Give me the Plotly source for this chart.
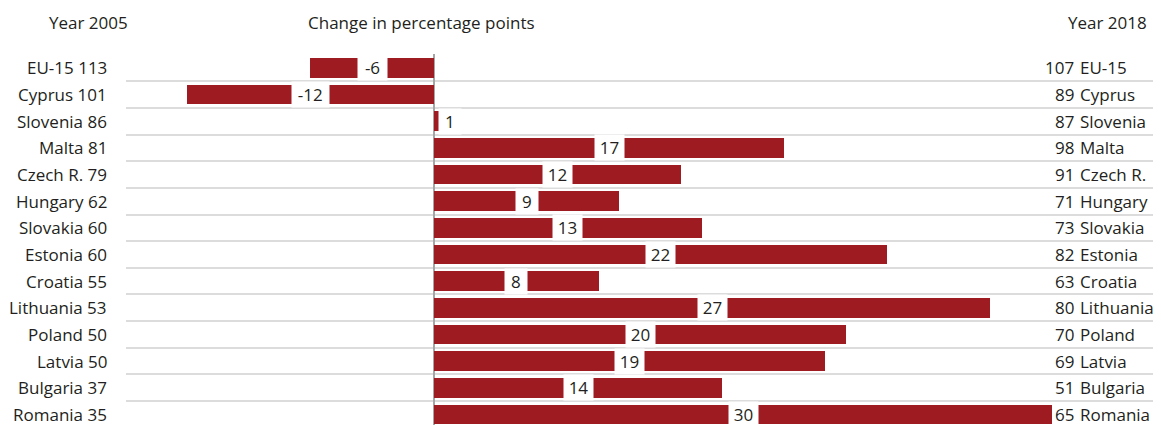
import plotly.graph_objects as go

countries = ["EU-15", "Cyprus", "Slovenia", "Malta", "Czech R.", "Hungary", "Slovakia",
             "Estonia", "Croatia", "Lithuania", "Poland", "Latvia", "Bulgaria", "Romania"]
year2005 = [113, 101, 86, 81, 79, 62, 60, 60, 55, 53, 50, 50, 37, 35]
year2018 = [107, 89, 87, 98, 91, 71, 73, 82, 63, 80, 70, 69, 51, 65]
change = [-6, -12, 1, 17, 12, 9, 13, 22, 8, 27, 20, 19, 14, 30]

FONT = "Open Sans"
FS = 17
TXT = "#231f20"
BAR = "#9e1b22"
OFF = 8  # page body margin
W, H = 1161 - OFF, 425 - OFF
ML, MR, MT, MB = 126 - OFF, 7, 54 - OFF, 0
pw = W - ML - MR
ph = H - MT - MB
ZERO = 434 - OFF
UNIT = 20.6

def px_x(p):
    return (p - OFF - ML) / pw

def px_y(p):
    return (H - MB - (p - OFF)) / ph

rows = list(range(len(countries)))

fig = go.Figure()
fig.add_trace(go.Bar(
    y=rows, x=change, orientation="h", width=0.74,
    marker=dict(color=BAR, line=dict(width=0)),
    hoverinfo="skip", showlegend=False,
))

font = dict(family=FONT, size=FS, color=TXT)
ann = []
for i, (c, a, b, d) in enumerate(zip(countries, year2005, year2018, change)):
    txt = str(d)
    xpos = d / 2 if abs(d) > 2 else max(d / 2, 0.8)
    ann.append(dict(x=xpos, y=i, xref="x", yref="y", text=txt, showarrow=False,
                    font=font, bgcolor="white",
                    borderpad=0, width=len(txt) * 7.5 + 14, height=25,
                    xanchor="center", yanchor="middle"))
    ann.append(dict(x=px_x(109), y=i, xref="paper", yref="y", text=f"{c} {a}",
                    showarrow=False, xanchor="right", yanchor="middle", font=font))
    ann.append(dict(x=px_x(1076), y=i, xref="paper", yref="y", text=str(b),
                    showarrow=False, xanchor="right", yanchor="middle", font=font))
    ann.append(dict(x=px_x(1078), y=i, xref="paper", yref="y", text=c,
                    showarrow=False, xanchor="left", yanchor="middle", font=font))

ann.append(dict(x=px_x(130), y=px_y(22), xref="paper", yref="paper", text="Year 2005",
                showarrow=False, xanchor="right", yanchor="middle", font=font))
ann.append(dict(x=px_x(421), y=px_y(22), xref="paper", yref="paper",
                text="Change in percentage points", showarrow=False,
                xanchor="center", yanchor="middle", font=font))
ann.append(dict(x=px_x(1149), y=px_y(22), xref="paper", yref="paper", text="Year 2018",
                showarrow=False, xanchor="right", yanchor="middle", font=font))

row_px = 26.7
fig.update_layout(
    width=W, height=H,
    margin=dict(l=ML, r=MR, t=MT, b=MB, pad=0),
    plot_bgcolor="white", paper_bgcolor="white",
    annotations=ann, bargap=0,
    xaxis=dict(range=[(ML - ZERO) / UNIT, (W - MR - ZERO) / UNIT],
               showgrid=False, showticklabels=False, ticks="",
               zeroline=True, zerolinecolor="#a6a6a6", zerolinewidth=1.5),
    yaxis=dict(range=[-0.5 + ph / row_px, -0.52],
               tickvals=[i - 0.5 for i in rows], showticklabels=False, ticks="",
               showgrid=True, gridcolor="#dcdcdc", gridwidth=1.5, zeroline=False),
)

fig.write_html("out.html")
